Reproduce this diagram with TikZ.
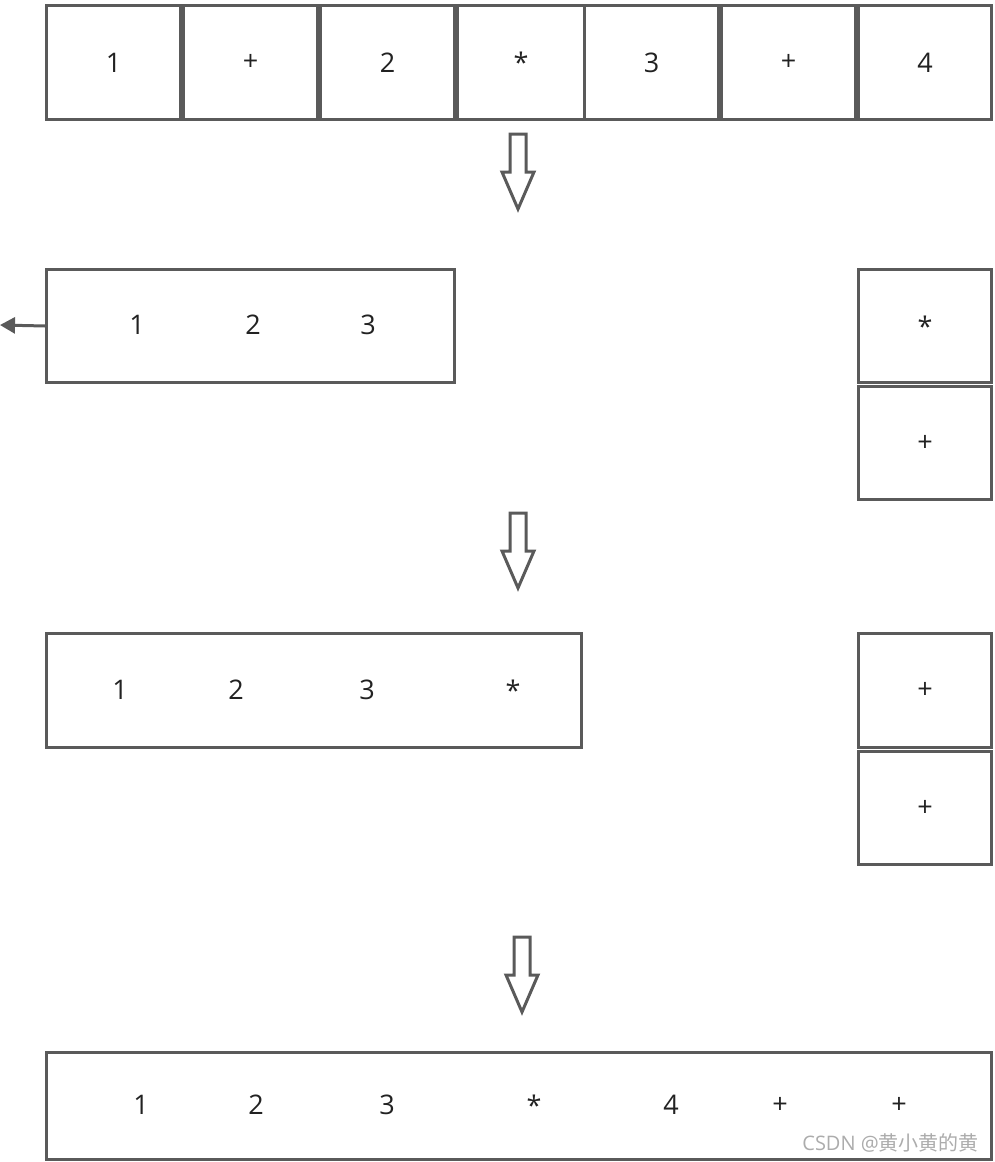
\documentclass[tikz,border=0pt]{standalone}
\usepackage{fontspec}
\setmainfont{Open Sans}
\newfontfamily\cjk{Noto Sans CJK SC}
\usetikzlibrary{arrows.meta}
\definecolor{ln}{HTML}{5A5A5A}
\definecolor{tx}{HTML}{222222}
\tikzset{
  cell/.style={draw=ln, line width=3pt, fill=white, inner sep=0pt},
  lbl/.style={text=tx, font=\fontsize{27}{30}\selectfont, inner sep=0pt},
  blockarrow/.style={draw=ln, line width=3pt, fill=white, line join=miter},
}
\newcommand{\cellbox}[6]{% name, x1, y1, x2, y2, text
  \node[cell, minimum width={#4-#2}, minimum height={#5-#3}, anchor=north west] (#1) at (#2,#3) {};
  \node[lbl] at (#1.center) {#6};}
\newcommand{\downarr}[3]{% name, xc, ytop
  \draw[blockarrow] (#2-8,#3) -- (#2+8,#3) -- (#2+8,#3+38) -- (#2+16,#3+38) -- (#2,#3+75) -- (#2-16,#3+38) -- (#2-8,#3+38) -- cycle;
  \coordinate (#1) at (#2,#3);}
\begin{document}
\begin{tikzpicture}[x=1pt,y=-1pt]
\useasboundingbox (0,0) rectangle (994,1162);
% row 1
\cellbox{a1}{45}{4}{179}{118}{1}
\cellbox{a2}{182}{4}{316}{118}{+}
\cellbox{a3}{319}{4}{453}{118}{2}
\cellbox{a4}{456}{4}{583}{118}{*}
\cellbox{a5}{583}{4}{717}{118}{3}
\cellbox{a6}{720}{4}{854}{118}{+}
\cellbox{a7}{857}{4}{990}{118}{4}
\downarr{d1}{518}{134}
% row 2
\node[cell, minimum width=408, minimum height=113, anchor=north west] (b) at (45,268) {};
\node[lbl] at (137,325) {1};
\node[lbl] at (253,325) {2};
\node[lbl] at (368,325) {3};
\coordinate (bl) at (0,325);
\draw[draw=ln, line width=3pt, -{Triangle[length=15pt,width=16pt]}] (b.west) -- (bl);
\cellbox{s1}{857}{268}{990}{381}{*}
\cellbox{s2}{857}{385}{990}{498}{+}
\downarr{d2}{518}{513}
% row 3
\node[cell, minimum width=535, minimum height=114, anchor=north west] (c) at (45,632) {};
\node[lbl] at (120,690) {1};
\node[lbl] at (236,690) {2};
\node[lbl] at (367,690) {3};
\node[lbl] at (513,690) {*};
\cellbox{t1}{857}{632}{990}{746}{+}
\cellbox{t2}{857}{750}{990}{863}{+}
\downarr{d3}{522}{937}
% row 4
\node[cell, minimum width=945, minimum height=107, anchor=north west] (e) at (45,1051) {};
\node[lbl] at (141,1105) {1};
\node[lbl] at (256,1105) {2};
\node[lbl] at (387,1105) {3};
\node[lbl] at (534,1105) {*};
\node[lbl] at (671,1105) {4};
\node[lbl] at (780,1105) {+};
\node[lbl] at (899,1105) {+};
\node[text=gray!65, font=\fontsize{20}{22}\selectfont, anchor=east, inner sep=0pt] (wm) at (979,1143) {CSDN @{\cjk 黄小黄的黄}};
\end{tikzpicture}
\end{document}
